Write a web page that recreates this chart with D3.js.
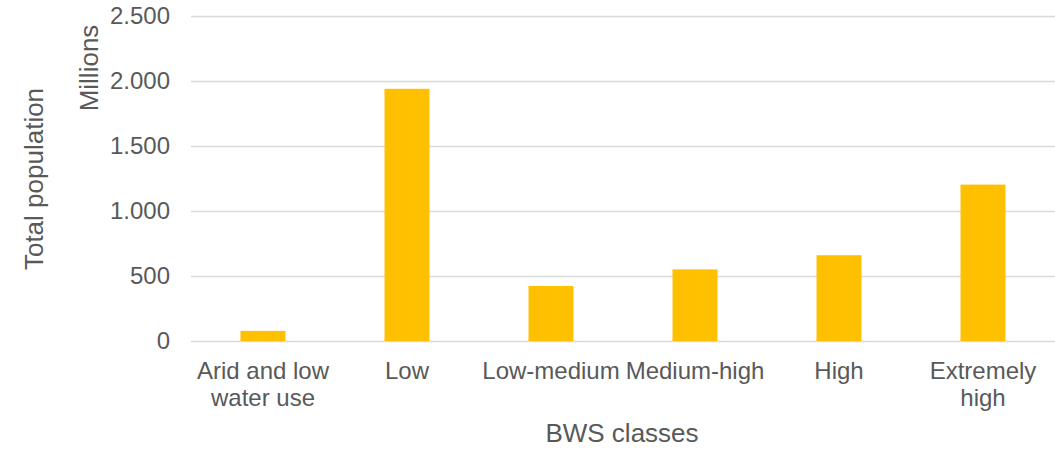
<!DOCTYPE html>
<html>
<head>
<meta charset="utf-8">
<script src="https://cdn.jsdelivr.net/npm/d3@7"></script>
<style>
  html, body { margin: 0; padding: 0; background: #fff; }
  svg { display: block; font-family: "Liberation Sans", Arial, sans-serif; }
</style>
</head>
<body>
<svg id="chart" width="1055" height="450"></svg>
<script>
const categories = ["Arid and low water use", "Low", "Low-medium", "Medium-high", "High", "Extremely high"];
const values = [78, 1940, 423, 551, 660, 1203];
const yTicks = [0, 500, 1000, 1500, 2000, 2500];
const yTitle = "Total population";
const yUnit = "Millions";
const xTitle = "BWS classes";

const plotLeft = 191, plotRight = 1055, plotTop = 16, plotBottom = 341;
const textColor = "#595959";
const gridColor = "#d9d9d9";
const barColor = "#FFC000";

const svg = d3.select("#chart");
const locale = d3.formatLocale({decimal: ",", thousands: ".", grouping: [3], currency: ["", ""]});
const fmt = locale.format(",d");

const x = d3.scaleBand().domain(categories).range([plotLeft, plotRight])
  .paddingInner(0.6875).paddingOuter(0.6875 / 2);
const y = d3.scaleLinear().domain([0, 2500]).range([plotBottom, plotTop]);

// gridlines
const yAxis = d3.axisLeft(y).tickValues(yTicks).tickSize(-(plotRight - plotLeft)).tickFormat(fmt).tickPadding(21);
const gy = svg.append("g").attr("transform", `translate(${plotLeft},0)`).call(yAxis);
gy.select(".domain").remove();
gy.selectAll(".tick line").attr("stroke", gridColor).attr("stroke-width", 1.3);
gy.selectAll(".tick text").attr("fill", textColor).attr("font-size", 24)
  .attr("font-family", "Liberation Sans, Arial, sans-serif");

// bars
svg.append("g").selectAll("rect").data(categories).join("rect")
  .attr("x", d => x(d))
  .attr("width", x.bandwidth())
  .attr("y", (d, i) => y(values[i]))
  .attr("height", (d, i) => y(0) - y(values[i]))
  .attr("fill", barColor);

// x category labels with wrapping
const xAxis = d3.axisBottom(x).tickSize(0).tickPadding(0);
const gx = svg.append("g").attr("transform", `translate(0,${plotBottom})`).call(xAxis);
gx.select(".domain").remove();
gx.selectAll(".tick text").attr("fill", textColor).attr("font-size", 24)
  .attr("font-family", "Liberation Sans, Arial, sans-serif")
  .attr("dy", null).attr("y", 38)
  .each(function(d) {
    const t = d3.select(this);
    const words = d.split(/\s+/);
    t.text(null);
    let line = [];
    let lineNo = 0;
    let tspan = t.append("tspan").attr("x", 0).attr("y", 38);
    const maxW = x.step() - 4;
    words.forEach(w => {
      line.push(w);
      tspan.text(line.join(" "));
      if (tspan.node().getComputedTextLength() > maxW && line.length > 1) {
        line.pop();
        tspan.text(line.join(" "));
        line = [w];
        lineNo++;
        tspan = t.append("tspan").attr("x", 0).attr("y", 38 + lineNo * 26.5).text(w);
      }
    });
  });

// axis titles
svg.append("text").attr("transform", "translate(43,179) rotate(-90)")
  .attr("text-anchor", "middle").attr("fill", textColor).attr("font-size", 26)
  .text(yTitle);
svg.append("text").attr("transform", "translate(98,68) rotate(-90)")
  .attr("text-anchor", "middle").attr("fill", textColor).attr("font-size", 26)
  .text(yUnit);
svg.append("text").attr("x", (plotLeft + plotRight) / 2 - 1).attr("y", 442)
  .attr("text-anchor", "middle").attr("fill", textColor).attr("font-size", 26)
  .text(xTitle);
</script>
</body>
</html>
